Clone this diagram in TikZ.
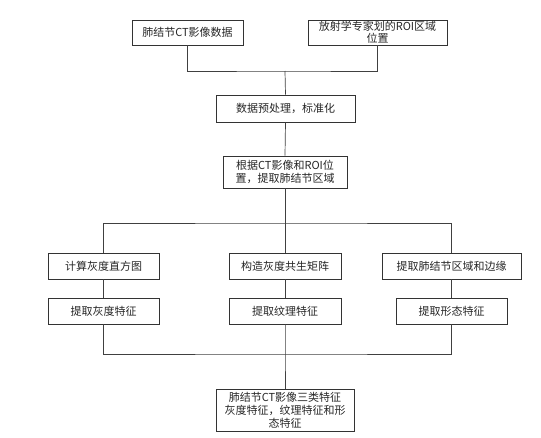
\documentclass[tikz,border=0pt]{standalone}
\usepackage{fontspec}
\setmainfont{Noto Sans CJK SC}
\begin{document}
\begin{tikzpicture}[x=1pt,y=-1pt,
  box/.style={draw=black!80,line width=0.7pt,rectangle,inner sep=0pt,align=center,font=\fontsize{11}{13}\selectfont,text=black!85},
  link/.style={draw=black!75,line width=0.7pt}]
\useasboundingbox (0,0) rectangle (541,437);
\node[box,minimum width=111pt,minimum height=25pt] (b1) at (187.5,32.5) {肺结节CT影像数据};
\node[box,minimum width=139pt,minimum height=25pt] (b2) at (377.5,32.5) {放射学专家划的ROI区域\\[-1pt]位置};
\node[box,minimum width=139pt,minimum height=27pt] (b3) at (285.5,108.5) {数据预处理，标准化};
\node[box,minimum width=124pt,minimum height=32pt] (b4) at (285,172) {根据CT影像和ROI位\\置，提取肺结节区域};
\node[box,minimum width=111pt,minimum height=26pt] (a1) at (103.5,266) {计算灰度直方图};
\node[box,minimum width=112pt,minimum height=26pt] (m1) at (285,266) {构造灰度共生矩阵};
\node[box,minimum width=139pt,minimum height=26pt] (c1) at (451.5,266) {提取肺结节区域和边缘};
\node[box,minimum width=111pt,minimum height=26pt] (a2) at (103.5,311) {提取灰度特征};
\node[box,minimum width=112pt,minimum height=26pt] (m2) at (285,311) {提取纹理特征};
\node[box,minimum width=111pt,minimum height=26pt] (c2) at (451.5,311) {提取形态特征};
\node[box,minimum width=138pt,minimum height=42pt] (f) at (285,410) {肺结节CT影像三类特征\\灰度特征，纹理特征和形\\态特征};
\coordinate (j1) at (285,71);
\coordinate (j2) at (285,223);
\coordinate (j3) at (285,354);
\draw[link] (b1.south) |- (j1) -| (b2.south);
\draw[link] (j1) -- (b3.north);
\draw[link] (b3.south) -- (b4.north);
\draw[link] (b4.south) -- (j2);
\draw[link] (a1.north) |- (j2) -| (c1.north);
\draw[link] (j2) -- (m1.north);
\draw[link] (a1.south) -- (a2.north);
\draw[link] (m1.south) -- (m2.north);
\draw[link] (c1.south) -- (c2.north);
\draw[link] (a2.south) |- (j3) -| (c2.south);
\draw[link] (m2.south) -- (j3) -- (f.north);
\end{tikzpicture}
\end{document}
